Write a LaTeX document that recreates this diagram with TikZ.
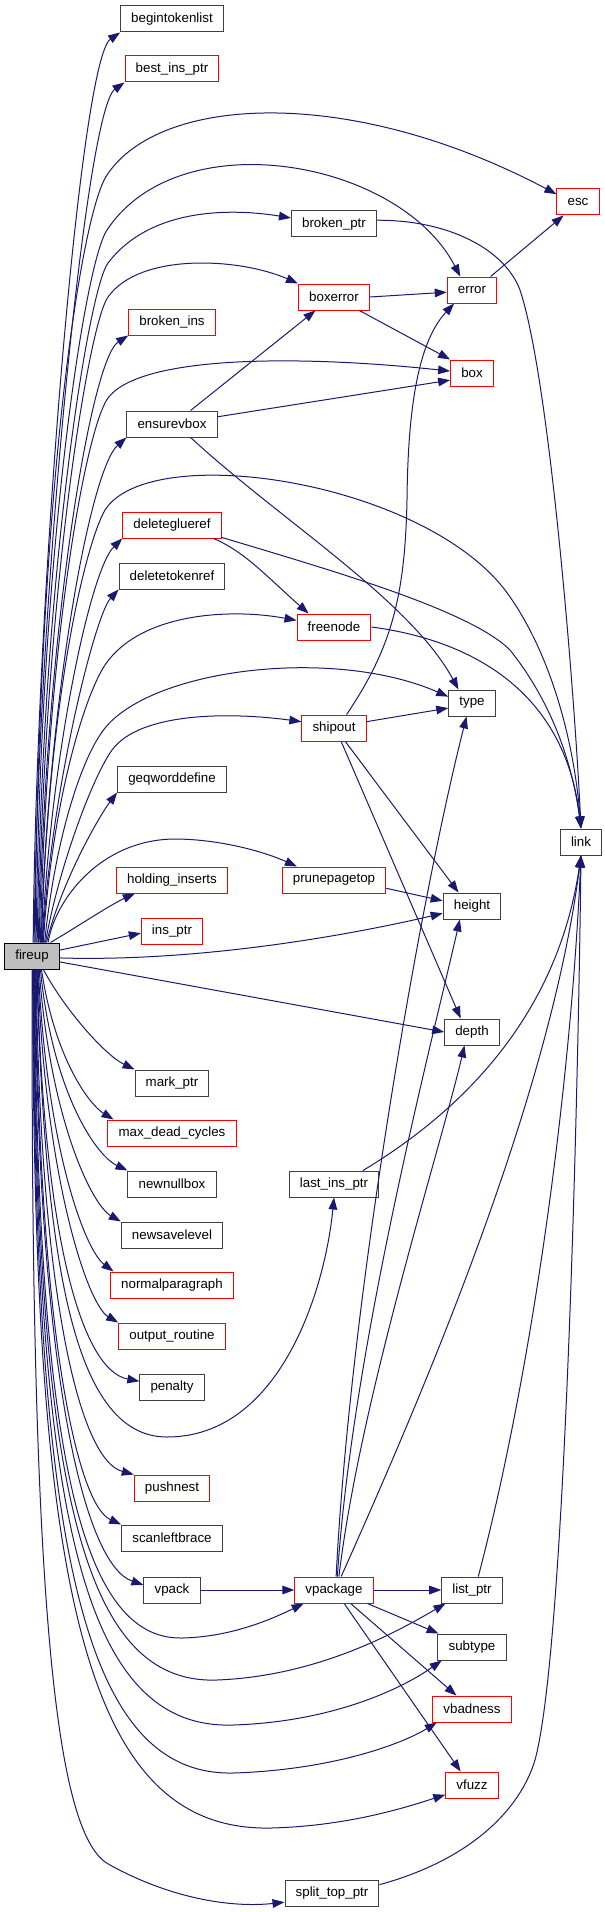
\documentclass[tikz,border=0pt]{standalone}
\usepackage{fontspec}
\setmainfont{Liberation Sans}
\usetikzlibrary{arrows.meta}
\definecolor{edgeblue}{HTML}{191970}
\definecolor{boxred}{HTML}{FF0000}
\definecolor{boxgray}{HTML}{404040}
\definecolor{rootfill}{HTML}{BFBFBF}
\tikzset{
  fn/.style={draw=boxgray, line width=0.75pt, inner xsep=8pt, inner ysep=0pt,
    minimum height=19.5pt, font=\fontsize{10}{12}\selectfont},
  fnred/.style={fn, draw=boxred},
  fnroot/.style={fn, draw=black, fill=rootfill},
  call/.style={draw=edgeblue, line width=0.75pt, -{Triangle[length=9pt,width=6.5pt]}}
}
\begin{document}
\begin{tikzpicture}[x=0.75pt,y=-0.75pt]
  \useasboundingbox (0,0) rectangle (605,1912);
  % callees, column by column
  \node[fnroot] (fireup) at (32,956) {fireup};
  \node[fn] (begintokenlist) at (172,19) {begintokenlist};
  \node[fnred] (bestinsptr) at (172,69) {best\_ins\_ptr};
  \node[fnred] (brokenins) at (172,322) {broken\_ins};
  \node[fn] (ensurevbox) at (172,424) {ensurevbox};
  \node[fnred] (deleteglueref) at (172,525) {deleteglueref};
  \node[fn] (deletetokenref) at (172,576) {deletetokenref};
  \node[fn] (geqworddefine) at (172,779) {geqworddefine};
  \node[fnred] (holdinginserts) at (172,880) {holding\_inserts};
  \node[fnred] (insptr) at (172,931) {ins\_ptr};
  \node[fn] (markptr) at (172,1083) {mark\_ptr};
  \node[fnred] (maxdeadcycles) at (172,1133) {max\_dead\_cycles};
  \node[fn] (newnullbox) at (172,1184) {newnullbox};
  \node[fn] (newsavelevel) at (172,1235) {newsavelevel};
  \node[fnred] (normalparagraph) at (172,1285) {normalparagraph};
  \node[fnred] (outputroutine) at (172,1336) {output\_routine};
  \node[fn] (penalty) at (172,1387) {penalty};
  \node[fnred] (pushnest) at (172,1488) {pushnest};
  \node[fn] (scanleftbrace) at (172,1538) {scanleftbrace};
  \node[fn] (vpack) at (172,1590) {vpack};
  \node[fn] (brokenptr) at (334,224) {broken\_ptr};
  \node[fnred] (boxerror) at (334,297) {boxerror};
  \node[fnred] (freenode) at (334,627) {freenode};
  \node[fnred] (shipout) at (334,728) {shipout};
  \node[fnred] (prunepagetop) at (334,880) {prunepagetop};
  \node[fn] (lastinsptr) at (334,1184) {last\_ins\_ptr};
  \node[fnred] (vpackage) at (334,1590) {vpackage};
  \node[fn] (splittopptr) at (332,1893) {split\_top\_ptr};
  \node[fnred] (error) at (472,290) {error};
  \node[fnred] (box) at (472,373) {box};
  \node[fn] (type) at (472,703) {type};
  \node[fn] (height) at (472,906) {height};
  \node[fn] (depth) at (472,1032) {depth};
  \node[fn] (listptr) at (472,1590) {list\_ptr};
  \node[fn] (subtype) at (472,1647) {subtype};
  \node[fnred] (vbadness) at (472,1709) {vbadness};
  \node[fnred] (vfuzz) at (472,1785) {vfuzz};
  \node[fnred] (esc) at (578,202) {esc};
  \node[fn] (link) at (581,842) {link};

  % fireup, upwards
  \draw[call] (fireup.85) .. controls (36,600) and (80,60) .. (begintokenlist.south west);
  \draw[call] (fireup.81) .. controls (37,620) and (85,110) .. (bestinsptr.south west);
  \draw[call] (fireup.77) .. controls (38,500) and (80,215) .. (107,175)
    .. controls (160,95) and (350,85) .. (esc.160);
  \draw[call] (fireup.73) .. controls (40,550) and (85,262) .. (107,230)
    .. controls (180,120) and (400,160) .. (error.131);
  \draw[call] (fireup.69) .. controls (42,580) and (88,290) .. (108,263)
    .. controls (150,208) and (230,208) .. (brokenptr.172);
  \draw[call] (fireup.65) .. controls (44,600) and (88,325) .. (108,297)
    .. controls (140,252) and (240,258) .. (boxerror.north west);
  \draw[call] (fireup.62) .. controls (45,640) and (90,360) .. (brokenins.south west);
  \draw[call] (fireup.58) .. controls (46,650) and (85,430) .. (108,398)
    .. controls (140,355) and (300,355) .. (box.175);
  \draw[call] (fireup.56) .. controls (48,700) and (90,470) .. (ensurevbox.south west);
  \draw[call] (fireup.55) .. controls (48,700) and (85,545) .. (105,510)
    .. controls (150,440) and (420,480) .. (505,590)
    .. controls (550,650) and (574,740) .. (link.north);
  \draw[call] (fireup.53) .. controls (50,760) and (90,570) .. (deleteglueref.south west);
  \draw[call] (fireup.52) .. controls (51,790) and (95,615) .. (deletetokenref.south west);
  \draw[call] (fireup.50) .. controls (52,800) and (85,695) .. (105,665)
    .. controls (140,613) and (230,608) .. (freenode.170);
  \draw[call] (fireup.47) .. controls (55,840) and (80,765) .. (100,735)
    .. controls (140,670) and (330,645) .. (type.165);
  \draw[call] (fireup.45) .. controls (58,870) and (92,778) .. (112,750)
    .. controls (140,712) and (230,712) .. (shipout.169);
  \draw[call] (fireup.43) .. controls (62,880) and (100,815) .. (geqworddefine.south west);
  \draw[call] (fireup.40) .. controls (55,900) and (100,840) .. (174,839)
    .. controls (220,839) and (265,852) .. (prunepagetop.160);
  \draw[call] (fireup.36) .. controls (80,925) and (110,905) .. (holdinginserts.200);
  % fireup, sideways
  \draw[call] (fireup.12) -- (insptr.184);
  \draw[call] (fireup.-4) .. controls (200,962) and (350,935) .. (height.194);
  \draw[call] (fireup.-12) -- (depth.west);
  % fireup, downwards
  \draw[call] (fireup.-50) .. controls (65,1010) and (105,1055) .. (markptr.north west);
  \draw[call] (fireup.-55) .. controls (55,1060) and (90,1105) .. (maxdeadcycles.167);
  \draw[call] (fireup.-58) .. controls (52,1090) and (95,1155) .. (newnullbox.north west);
  \draw[call] (fireup.-62) .. controls (50,1120) and (92,1205) .. (newsavelevel.north west);
  \draw[call] (fireup.-65) .. controls (47,1150) and (85,1250) .. (normalparagraph.167);
  \draw[call] (fireup.-67) .. controls (45,1180) and (88,1305) .. (outputroutine.north west);
  \draw[call] (fireup.-69) .. controls (43,1230) and (80,1370) .. (penalty.170);
  \draw[call] (fireup.-71) .. controls (45,1250) and (70,1437) .. (167,1437)
    .. controls (280,1437) and (325,1290) .. (lastinsptr.south);
  \draw[call] (fireup.-73) .. controls (40,1300) and (80,1460) .. (pushnest.north west);
  \draw[call] (fireup.-75) .. controls (39,1340) and (78,1505) .. (scanleftbrace.north west);
  \draw[call] (fireup.-77) .. controls (38,1380) and (85,1565) .. (vpack.170);
  \draw[call] (fireup.-79) .. controls (37,1450) and (80,1640) .. (182,1638)
    .. controls (230,1637) and (270,1620) .. (vpackage.204);
  \draw[call] (fireup.-81) .. controls (36,1480) and (80,1685) .. (217,1680)
    .. controls (320,1676) and (400,1630) .. (listptr.207);
  \draw[call] (fireup.-83) .. controls (35,1510) and (80,1730) .. (233,1725)
    .. controls (330,1722) and (400,1690) .. (subtype.204);
  \draw[call] (fireup.-85) .. controls (34,1540) and (80,1776) .. (233,1773)
    .. controls (330,1770) and (400,1745) .. (vbadness.201);
  \draw[call] (fireup.-87) .. controls (33,1580) and (80,1832) .. (271,1828)
    .. controls (350,1826) and (410,1806) .. (vfuzz.200);
  \draw[call] (fireup.-89) .. controls (30,1650) and (60,1840) .. (110,1865)
    .. controls (170,1898) and (230,1908) .. (splittopptr.191);

  % the rest
  \draw[call] (brokenptr.5) .. controls (450,220) and (505,250) .. (520,290)
    .. controls (550,380) and (575,700) .. (link.north);
  \draw[call] (boxerror.east) -- (error.185);
  \draw[call] (boxerror.-28) -- (box.north west);
  \draw[call] (error.36) -- (esc.223);
  \draw[call] (ensurevbox.36) -- (boxerror.216);
  \draw[call] (ensurevbox.9) -- (box.198);
  \draw[call] (ensurevbox.-36) .. controls (280,520) and (410,600) .. (type.135);
  \draw[call] (deleteglueref.-14) .. controls (330,570) and (470,610) .. (510,650)
    .. controls (550,700) and (572,760) .. (link.north);
  \draw[call] (deleteglueref.-18) .. controls (245,552) and (265,575) .. (freenode.152);
  \draw[call] (freenode.east) .. controls (470,640) and (565,690) .. (link.north);
  \draw[call] (shipout.47) .. controls (390,650) and (405,600) .. (407,500)
    .. controls (408,400) and (420,340) .. (error.217);
  \draw[call] (shipout.11) -- (type.192);
  \draw[call] (shipout.-50) -- (height.135);
  \draw[call] (shipout.-62) -- (depth.130);
  \draw[call] (prunepagetop.-9) -- (height.170);
  \draw[call] (lastinsptr.25) .. controls (480,1100) and (560,1000) .. (link.south);
  \draw[call] (vpack) -- (vpackage);
  \draw[call] (vpackage) -- (listptr);
  \draw[call] (vpackage.-22) -- (subtype.158);
  \draw[call] (vpackage.-39) -- (vbadness.139);
  \draw[call] (vpackage.-53) -- (vfuzz.130);
  \draw[call] (vpackage.81) .. controls (350,1300) and (420,900) .. (type.248);
  \draw[call] (vpackage.76) .. controls (352,1350) and (430,1050) .. (height.228);
  \draw[call] (vpackage.70) .. controls (360,1400) and (440,1150) .. (depth.241);
  \draw[call] (vpackage.62) .. controls (420,1400) and (550,1100) .. (link.south);
  \draw[call] (listptr.65) .. controls (530,1380) and (570,1100) .. (link.south);
  \draw[call] (splittopptr.10) .. controls (470,1860) and (520,1810) .. (535,1760)
    .. controls (565,1650) and (578,1100) .. (link.south);
\end{tikzpicture}
\end{document}
